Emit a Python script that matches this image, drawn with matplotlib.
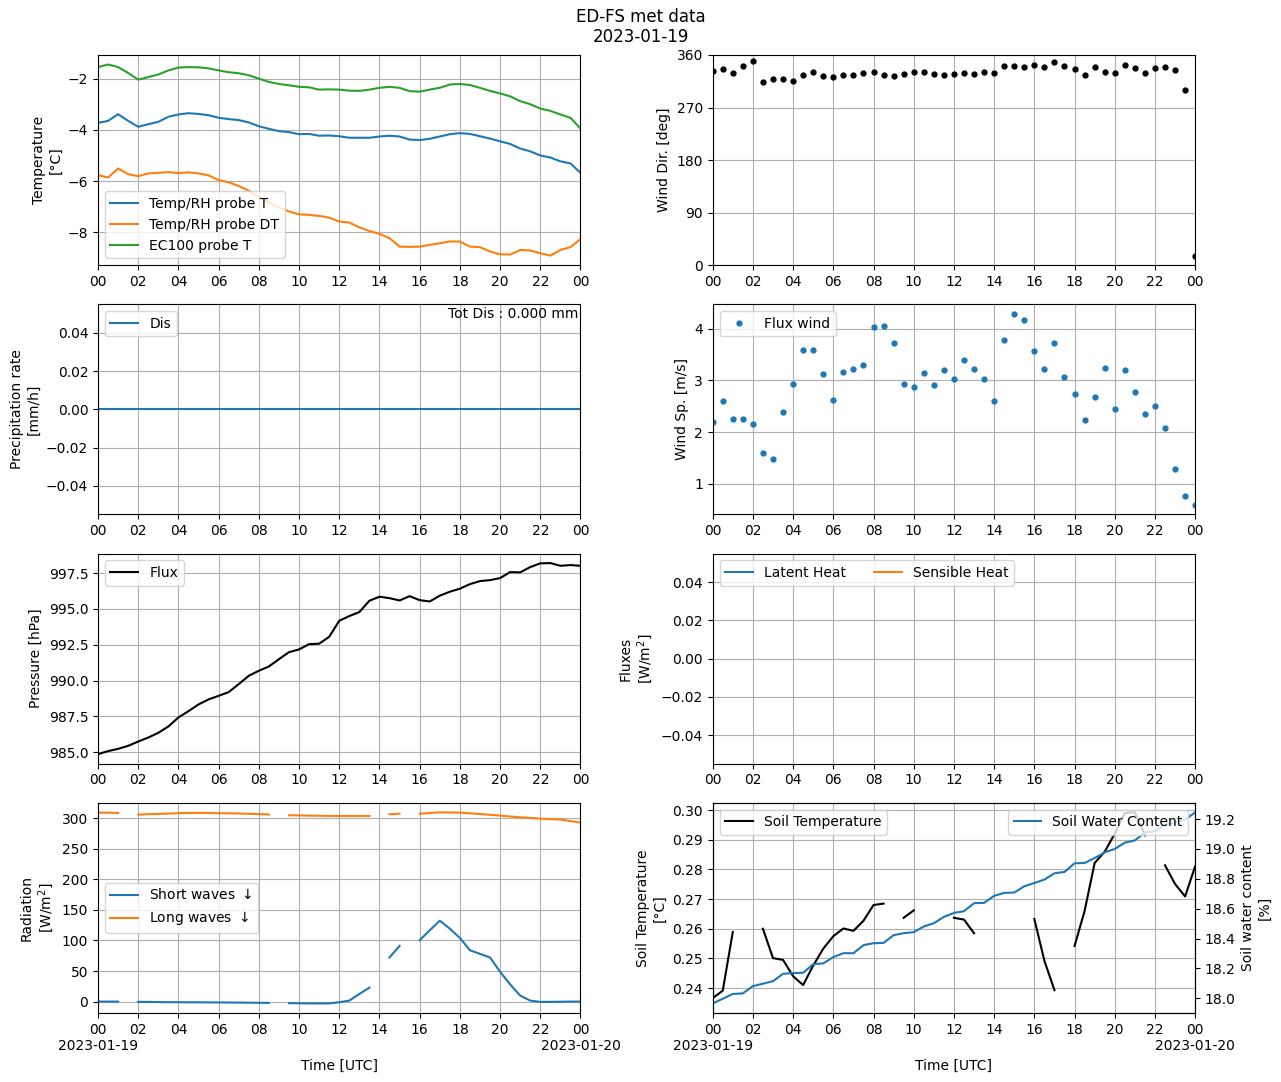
import numpy as np
import pandas as pd
import matplotlib
matplotlib.use('Agg')
import matplotlib.pyplot as plt
import matplotlib.dates as mdates
from matplotlib.ticker import FuncFormatter, MultipleLocator, FormatStrFormatter

nan = np.nan

# 30 min samples over the day
times = pd.date_range('2023-01-19 00:00', '2023-01-20 00:00', freq='30min')

temp_T = [-3.73, -3.65, -3.39, -3.65, -3.88, -3.78, -3.69, -3.49, -3.40, -3.35,
          -3.38, -3.43, -3.53, -3.58, -3.62, -3.71, -3.86, -3.96, -4.05, -4.09,
          -4.17, -4.16, -4.23, -4.22, -4.25, -4.31, -4.31, -4.31, -4.26, -4.23,
          -4.26, -4.38, -4.40, -4.35, -4.26, -4.17, -4.13, -4.16, -4.25, -4.34,
          -4.45, -4.55, -4.73, -4.84, -5.00, -5.08, -5.23, -5.31, -5.68]
temp_DT = [-5.77, -5.86, -5.51, -5.73, -5.81, -5.70, -5.68, -5.65, -5.69, -5.66,
           -5.70, -5.78, -5.96, -6.05, -6.19, -6.38, -6.61, -6.84, -7.03, -7.19,
           -7.30, -7.32, -7.36, -7.43, -7.58, -7.62, -7.81, -7.95, -8.06, -8.23,
           -8.56, -8.57, -8.56, -8.49, -8.43, -8.36, -8.36, -8.56, -8.58, -8.75,
           -8.86, -8.87, -8.69, -8.71, -8.82, -8.91, -8.69, -8.58, -8.27]
temp_EC = [-1.55, -1.45, -1.55, -1.78, -2.04, -1.94, -1.84, -1.68, -1.57, -1.55,
           -1.56, -1.60, -1.68, -1.75, -1.79, -1.87, -2.00, -2.13, -2.21, -2.26,
           -2.32, -2.34, -2.43, -2.42, -2.43, -2.47, -2.48, -2.43, -2.36, -2.32,
           -2.36, -2.49, -2.51, -2.43, -2.36, -2.23, -2.21, -2.25, -2.36, -2.48,
           -2.58, -2.69, -2.88, -3.00, -3.17, -3.26, -3.40, -3.53, -3.95]

wind_dir = [331.7, 336.8, 328.3, 341.9, 350.4, 314.2, 319.3, 319.3, 315.9, 326.0,
            331.1, 324.3, 322.6, 326.0, 326.0, 329.4, 331.1, 326.0, 324.3, 327.7,
            331.1, 331.1, 327.7, 326.0, 327.7, 329.4, 327.7, 331.1, 329.4, 341.3,
            341.3, 340.2, 343.6, 339.6, 348.7, 341.9, 336.2, 326.0, 340.2, 331.1,
            329.4, 343.6, 338.5, 329.4, 338.5, 340.2, 335.1, 300.6, 15.3]

wind_sp = [2.20, 2.61, 2.26, 2.26, 2.16, 1.60, 1.48, 2.39, 2.94, 3.59,
           3.59, 3.12, 2.63, 3.17, 3.23, 3.30, 4.04, 4.06, 3.73, 2.94,
           2.88, 3.15, 2.92, 3.21, 3.03, 3.40, 3.23, 3.03, 2.61, 3.79,
           4.29, 4.17, 3.57, 3.23, 3.73, 3.07, 2.74, 2.24, 2.68, 3.25,
           2.45, 3.21, 2.78, 2.34, 2.51, 2.08, 1.29, 0.77, 0.59]

precip = [0.0] * 49
tot_dis = 0.0

pressure = [984.86, 985.07, 985.23, 985.44, 985.74, 986.02, 986.35, 986.79, 987.42, 987.86,
            988.33, 988.68, 988.93, 989.19, 989.75, 990.33, 990.68, 990.98, 991.49, 991.98,
            992.17, 992.54, 992.57, 993.05, 994.17, 994.50, 994.78, 995.57, 995.85, 995.75,
            995.59, 995.89, 995.61, 995.52, 995.92, 996.20, 996.41, 996.73, 996.94, 997.01,
            997.15, 997.57, 997.55, 997.92, 998.18, 998.20, 998.01, 998.06, 998.01]

latent = [nan] * 49
sensible = [nan] * 49

sw_down = [0.0, 0.0, 0.0, nan, -0.5, -0.5, -0.8, -1.0, -1.0, -1.2,
           -1.2, -1.3, -1.4, -1.5, -1.6, -1.8, -2.0, -2.2, nan, -2.6,
           -2.8, -3.0, -3.0, -3.0, -1.1, 1.6, 12.5, 22.8, nan, 72.2,
           91.2, nan, 100.4, 116.7, 132.4, 119.4, 104.2, 84.1, 78.1, 72.2,
           48.8, 28.2, 9.8, 1.6, -0.5, -0.5, -0.3, 0.0, 0.0]
lw_down = [309.3, 309.3, 308.7, nan, 306.0, 306.8, 307.2, 307.8, 308.4, 308.8,
           309.0, 308.8, 308.4, 308.2, 307.9, 307.4, 307.0, 306.2, nan, 305.0,
           304.8, 304.4, 304.2, 303.9, 303.9, 303.9, 303.9, 303.9, nan, 306.6,
           307.6, nan, 307.6, 308.6, 309.8, 309.6, 309.3, 308.2, 307.1, 305.8,
           304.4, 303.0, 301.7, 300.6, 299.5, 298.7, 297.9, 295.5, 293.0]

soil_temp = [0.2366, 0.2391, 0.2589, nan, nan, 0.2600, 0.2501, 0.2495, 0.2440, 0.2410,
             0.2476, 0.2533, 0.2575, 0.2601, 0.2593, 0.2627, 0.2680, 0.2685, nan, 0.2637,
             0.2662, nan, nan, nan, 0.2637, 0.2631, 0.2585, nan, nan, nan,
             nan, nan, 0.2633, 0.2492, 0.2393, nan, 0.2542, 0.2660, 0.2822, 0.2860,
             0.2921, 0.2990, 0.2993, 0.2915, nan, 0.2814, 0.2751, 0.2709, 0.2811]
soil_wc = [17.966, 17.997, 18.029, 18.033, 18.082, 18.098, 18.115, 18.164, 18.169, 18.171,
           18.229, 18.234, 18.276, 18.302, 18.302, 18.356, 18.369, 18.371, 18.423, 18.436,
           18.443, 18.481, 18.503, 18.545, 18.572, 18.583, 18.637, 18.639, 18.686, 18.706,
           18.708, 18.750, 18.772, 18.795, 18.837, 18.846, 18.904, 18.906, 18.939, 18.977,
           19.000, 19.042, 19.057, 19.111, 19.118, 19.162, 19.178, 19.196, 19.245]


def fmt_hour(x, pos):
    return mdates.num2date(x).strftime('%H')


def fmt_hour_date(x, pos):
    d = mdates.num2date(x)
    s = d.strftime('%H')
    if d.hour == 0 and d.minute == 0:
        s += '\n' + d.strftime('%Y-%m-%d')
    return s


fig, axs = plt.subplots(4, 2, figsize=(12.81, 10.82), dpi=100)
fig.subplots_adjust(left=0.0765, right=0.933, bottom=0.0638, top=0.9492,
                    wspace=0.274, hspace=0.186)
fig.suptitle('ED-FS met data\n2023-01-19', y=0.993)

# temperature
ax = axs[0, 0]
ax.plot(times, temp_T, label='Temp/RH probe T')
ax.plot(times, temp_DT, label='Temp/RH probe DT')
ax.plot(times, temp_EC, label='EC100 probe T')
ax.set_ylabel('Temperature\n[°C]')
ax.legend(loc='lower left')

# wind direction
ax = axs[0, 1]
ax.plot(times, wind_dir, 'k.', ms=7)
ax.set_ylim(0, 360)
ax.set_yticks([0, 90, 180, 270, 360])
ax.set_ylabel('Wind Dir. [deg]')

# precipitation
ax = axs[1, 0]
ax.plot(times, precip, label='Dis')
ax.text(0.995, 0.985, 'Tot Dis : %.3f mm' % tot_dis, transform=ax.transAxes,
        ha='right', va='top')
ax.set_ylabel('Precipitation rate\n[mm/h]')
ax.legend(loc='upper left')

# wind speed
ax = axs[1, 1]
ax.plot(times, wind_sp, '.', ms=7, label='Flux wind')
ax.set_ylabel('Wind Sp. [m/s]')
ax.legend(loc='upper left')

# pressure
ax = axs[2, 0]
ax.plot(times, pressure, 'k', label='Flux')
ax.set_ylabel('Pressure [hPa]')
ax.legend(loc='upper left')

# fluxes
ax = axs[2, 1]
ax.plot(times, latent, label='Latent Heat')
ax.plot(times, sensible, label='Sensible Heat')
ax.set_ylim(-0.055, 0.055)
ax.set_ylabel('Fluxes\n[W/m$^2$]')
ax.legend(loc='upper left', ncol=2)

# radiation
ax = axs[3, 0]
ax.plot(times, sw_down, label='Short waves $\\downarrow$')
ax.plot(times, lw_down, label='Long waves $\\downarrow$')
ax.set_ylabel('Radiation\n[W/m$^2$]')
ax.legend(loc='center left')

# soil
ax = axs[3, 1]
ax.plot(times, soil_temp, 'k', label='Soil Temperature')
ax.set_ylim(0.2316, 0.3025)
ax.yaxis.set_major_locator(MultipleLocator(0.01))
ax.yaxis.set_major_formatter(FormatStrFormatter('%.2f'))
ax.set_ylabel('Soil Temperature\n[°C]')
ax.legend(loc='upper left')
ax2 = ax.twinx()
ax2.plot(times, soil_wc, label='Soil Water Content')
ax2.yaxis.set_major_locator(MultipleLocator(0.2))
ax2.yaxis.set_major_formatter(FormatStrFormatter('%.1f'))
ax2.set_ylabel('Soil water content\n[%]')
ax2.legend(loc='upper right')

for i in range(4):
    for j in range(2):
        ax = axs[i, j]
        ax.set_xlim(times[0], times[-1])
        ax.xaxis.set_major_locator(mdates.HourLocator(byhour=range(0, 24, 2)))
        if i == 3:
            ax.xaxis.set_major_formatter(FuncFormatter(fmt_hour_date))
            ax.set_xlabel('Time [UTC]')
        else:
            ax.xaxis.set_major_formatter(FuncFormatter(fmt_hour))
        ax.grid(True)

fig.savefig('out.png', dpi=100)
